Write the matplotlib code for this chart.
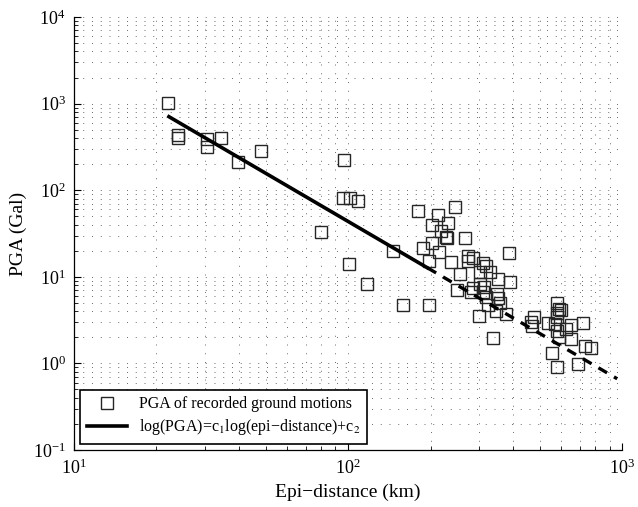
import matplotlib
matplotlib.use("Agg")
import matplotlib.pyplot as plt
import numpy as np
from matplotlib.ticker import LogLocator, NullFormatter

plt.rcParams['font.family'] = ['Liberation Serif', 'DejaVu Serif']
plt.rcParams['mathtext.fontset'] = 'stix'

# recorded ground motions
epi_dist = [22.1, 24.0, 23.9, 30.6, 30.6, 34.3, 39.8, 48.0, 96.4, 96.2,
            101.6, 109, 79.6, 179.5, 213.6, 246, 203, 232, 218, 227.5,
            229, 268, 203, 188, 214, 145.5, 101.1, 196.7, 238, 273.5,
            285, 273.5, 388, 310, 318.5, 256, 303, 329.5, 354, 391,
            117, 250.6, 280.5, 286.6, 303, 313, 311, 319, 349, 352,
            359.5, 325, 347.5, 378.5, 300.6, 158.8, 197.7, 339, 465.6, 477.5,
            468, 578, 591, 598, 581, 578, 538, 567, 578, 590,
            627, 651, 722, 651, 733, 769, 557, 692, 578]
pga = [1007, 434, 397, 387, 318, 403, 213, 284, 223, 80.6,
       82.4, 75.6, 33.1, 58.0, 51.4, 63.5, 39.9, 41.8, 33.5, 29.0,
       28.2, 27.8, 24.8, 21.3, 19.2, 20.0, 14.2, 15.2, 14.9, 17.2,
       16.4, 15.3, 18.7, 14.3, 13.5, 10.8, 11.5, 11.5, 9.35, 8.67,
       8.26, 7.04, 6.63, 7.37, 8.19, 7.69, 6.73, 5.92, 6.33, 5.65,
       4.94, 4.73, 4.08, 3.72, 3.53, 4.70, 4.70, 1.95, 2.97, 3.41,
       2.74, 4.94, 4.27, 4.14, 3.85, 3.46, 2.90, 2.83, 2.39, 2.03,
       2.48, 2.78, 2.90, 1.90, 1.57, 1.51, 1.31, 0.98, 0.90]

# fitted attenuation relation log(PGA) = c1*log(R) + c2
c1 = -1.85
c2 = 5.34
fit_solid = [22.2, 195]
fit_dashed = [195, 960]


def fit(r):
    r = np.asarray(r, dtype=float)
    return 10 ** (c1 * np.log10(r) + c2)


fig = plt.figure(figsize=(6.38, 5.07), dpi=100)
ax = fig.add_axes([0.116, 0.1124, 0.859, 0.854])

ax.set_xscale('log')
ax.set_yscale('log')
ax.set_xlim(10, 1000)
ax.set_ylim(0.1, 1e4)

# grid (MATLAB style sparse dots)
ax.grid(True, which='both', linestyle=(0, (1, 8)), linewidth=0.7, color='0.42')
ax.set_axisbelow(True)

ax.plot(epi_dist, pga, linestyle='none', marker='s', ms=8,
        mfc='none', mec='0.15', mew=1.0,
        label='PGA of recorded ground motions')

xs = np.logspace(np.log10(fit_solid[0]), np.log10(fit_solid[1]), 50)
ax.plot(xs, fit(xs), color='black', linewidth=2.6,
        label='log(PGA)=c$_1$log(epi\u2212distance)+c$_2$')
xd = np.logspace(np.log10(fit_dashed[0]), np.log10(fit_dashed[1]), 50)
ax.plot(xd, fit(xd), color='black', linewidth=2.4, linestyle=(0, (3.0, 2.4)))

for side in ['top', 'right']:
    ax.spines[side].set_visible(False)
for side in ['left', 'bottom']:
    ax.spines[side].set_linewidth(0.9)

ax.xaxis.set_major_locator(LogLocator(base=10, numticks=10))
ax.xaxis.set_minor_locator(LogLocator(base=10, subs=np.arange(2, 10), numticks=10))
ax.yaxis.set_major_locator(LogLocator(base=10, numticks=10))
ax.yaxis.set_minor_locator(LogLocator(base=10, subs=np.arange(2, 10), numticks=10))
ax.xaxis.set_minor_formatter(NullFormatter())
ax.yaxis.set_minor_formatter(NullFormatter())

ax.tick_params(which='major', direction='in', length=5, width=0.8,
               labelsize=13, top=False, right=False, pad=6)
ax.tick_params(which='minor', direction='in', length=3, width=0.6,
               top=False, right=False)

ax.set_xlabel('Epi\u2212distance (km)', fontsize=14)
ax.set_ylabel('PGA (Gal)', fontsize=14)

leg = ax.legend(loc='lower left', fontsize=11.5, frameon=True, fancybox=False,
                edgecolor='black', framealpha=1, handlelength=2.5,
                borderaxespad=0.4, borderpad=0.4, labelspacing=0.3)
leg.get_frame().set_linewidth(1.2)

fig.savefig('out.png', dpi=100)
